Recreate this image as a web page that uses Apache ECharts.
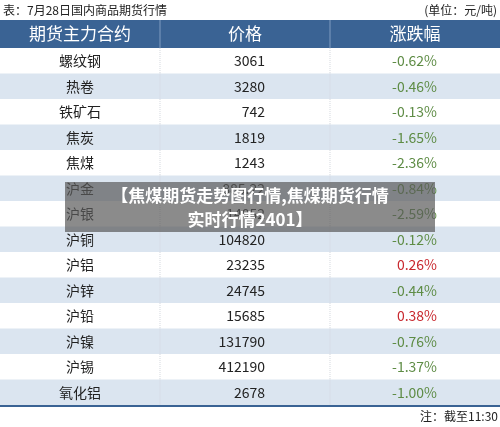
<!DOCTYPE html>
<html><head><meta charset="utf-8">
<script src="https://cdn.jsdelivr.net/npm/echarts@6/dist/echarts.min.js"></script>
<style>html,body{margin:0;padding:0;background:#fff}#c{width:500px;height:427px}</style>
</head><body><div id="c"></div>
<script>
const names = ['螺纹钢','热卷','铁矿石','焦炭','焦煤','沪金','沪银','沪铜','沪铝','沪锌','沪铅','沪镍','沪锡','氧化铝'];
const prices = ['3061','3280','742','1819','1243','885.22','14052','104820','23235','24745','15685','131790','412190','2678'];
const changes = [-0.62,-0.46,-0.13,-1.65,-2.36,-0.84,-2.59,-0.12,0.26,-0.44,0.38,-0.76,-1.37,-1.00];
const headers = ['期货主力合约','价格','涨跌幅'];
const title = '表：7月28日国内商品期货行情';
const unit = '(单位：元/吨)';
const note = '注：截至11:30';
const banner = ['【焦煤期货走势图行情,焦煤期货行情','实时行情2401】'];

const F = '"Noto Sans CJK SC","Noto Sans",sans-serif';
const chart = echarts.init(document.getElementById('c'));
chart.setOption({
  animation:false,
  grid:{left:0,right:0,top:48,bottom:22},
  xAxis:{type:'value',min:0,max:1,show:false},
  yAxis:{type:'category',data:names,inverse:true,show:false},
  series:[{
    type:'custom',
    data:names.map((n,i)=>[0,i]),
    renderItem:function(params,api){
      const i=api.value(1);
      const c=api.coord([0,i]);
      const h=api.size([0,1])[1];
      const cs=params.coordSys;
      const top=c[1]-h/2;
      const ch=changes[i];
      const children=[
        {type:'rect',shape:{x:cs.x,y:top,width:cs.width,height:h},style:{fill:i%2?'#dbe5f0':'#ffffff'}},
        {type:'line',shape:{x1:160,y1:top,x2:160,y2:top+h},style:{stroke:'#d4d8de',lineDash:[1,1],lineWidth:1}},
        {type:'line',shape:{x1:330,y1:top,x2:330,y2:top+h},style:{stroke:'#d4d8de',lineDash:[1,1],lineWidth:1}},
        {type:'text',style:{x:80,y:c[1],text:names[i],textAlign:'center',textVerticalAlign:'middle',font:'14px '+F,fill:'#222'}},
        {type:'text',style:{x:265,y:c[1],text:prices[i],textAlign:'right',textVerticalAlign:'middle',font:'14px '+F,fill:'#222'}},
        {type:'text',style:{x:437,y:c[1],text:ch.toFixed(2)+'%',textAlign:'right',textVerticalAlign:'middle',font:'14px '+F,fill:ch>=0?'#c8282e':'#5e8c45'}}
      ];
      return {type:'group',children:children};
    }
  }],
  graphic:[
    {type:'text',left:3,top:4,style:{text:title,font:'12px '+F,fill:'#222'}},
    {type:'text',right:3,top:4,style:{text:unit,font:'12px '+F,fill:'#222'}},
    {type:'rect',shape:{x:0,y:20,width:500,height:28},style:{fill:'#3a6394'}},
    {type:'line',shape:{x1:160,y1:20,x2:160,y2:48},style:{stroke:'#7f9cc0',lineWidth:1}},
    {type:'line',shape:{x1:330,y1:20,x2:330,y2:48},style:{stroke:'#7f9cc0',lineWidth:1}},
    {type:'text',x:80,y:34,style:{text:headers[0],textAlign:'center',textVerticalAlign:'middle',font:'17px '+F,fill:'#fff'}},
    {type:'text',x:245,y:34,style:{text:headers[1],textAlign:'center',textVerticalAlign:'middle',font:'17px '+F,fill:'#fff'}},
    {type:'text',x:415,y:34,style:{text:headers[2],textAlign:'center',textVerticalAlign:'middle',font:'17px '+F,fill:'#fff'}},
    {type:'line',shape:{x1:0,y1:406,x2:500,y2:406},style:{stroke:'#3a6394',lineWidth:2}},
    {type:'text',right:2,top:410,style:{text:note,font:'12px '+F,fill:'#222'}},
    {type:'rect',z:100,shape:{x:65,y:182,width:370,height:50},style:{fill:'rgba(90,90,90,0.7)'}},
    {type:'text',z:101,x:250,y:196,style:{text:banner[0],textAlign:'center',textVerticalAlign:'middle',font:'bold 17px '+F,fill:'#fff'}},
    {type:'text',z:101,x:250,y:220,style:{text:banner[1],textAlign:'center',textVerticalAlign:'middle',font:'bold 17px '+F,fill:'#fff'}}
  ]
});
</script></body></html>
